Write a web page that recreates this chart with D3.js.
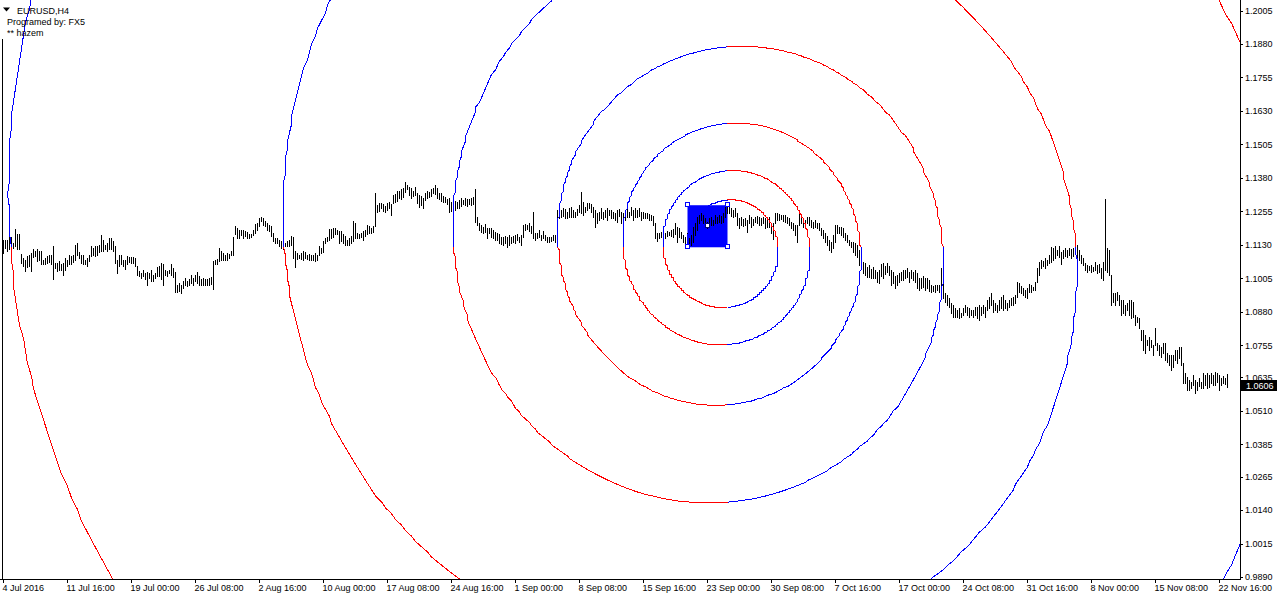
<!DOCTYPE html>
<html><head><meta charset="utf-8">
<script src="https://cdn.jsdelivr.net/npm/d3@7"></script>
<style>
html,body{margin:0;padding:0;background:#fff;}
svg{display:block;}
</style></head><body>
<svg id="c" width="1280" height="600"></svg>
<script>
// ---------------- data ----------------
const symbolTitle = "EURUSD,H4";
const infoLines = ["Programed by: FX5", "** hazem"];
const priceTickLabels = ["1.2005","1.1880","1.1755","1.1630","1.1505","1.1380","1.1255","1.1130","1.1005","1.0880","1.0755","1.0635","1.0510","1.0385","1.0265","1.0140","1.0015","0.9890"];
const dateTickLabels = ["4 Jul 2016","11 Jul 16:00","19 Jul 00:00","26 Jul 08:00","2 Aug 16:00","10 Aug 00:00","17 Aug 08:00","24 Aug 16:00","1 Sep 00:00","8 Sep 08:00","15 Sep 16:00","23 Sep 00:00","30 Sep 08:00","7 Oct 16:00","17 Oct 00:00","24 Oct 08:00","31 Oct 16:00","8 Nov 00:00","15 Nov 08:00","22 Nov 16:00"];
const dateTickBars = [0,32,64,96,128,160,192,224,256,288,320,352,384,416,448,480,512,544,576,608];
const lastPrice = 1.0606;

const highs = [
1.1148,1.1146,1.1148,1.1161,1.1157,1.1136,1.1189,1.1167,1.1167,1.1095,
1.1080,1.1073,1.1086,1.1092,1.1098,1.1114,1.1107,1.1114,1.1105,1.1105,
1.1073,1.1080,1.1086,1.1092,1.1092,1.1123,1.1061,1.1061,1.1067,1.1057,
1.1061,1.1080,1.1073,1.1092,1.1086,1.1092,1.1126,1.1136,1.1102,1.1092,
1.1092,1.1073,1.1080,1.1092,1.1123,1.1117,1.1123,1.1123,1.1129,1.1164,
1.1148,1.1129,1.1136,1.1154,1.1154,1.1144,1.1123,1.1073,1.1092,1.1092,
1.1073,1.1073,1.1086,1.1082,1.1082,1.1082,1.1080,1.1049,1.1030,1.1024,
1.1036,1.1024,1.1027,1.1024,1.1033,1.1017,1.1024,1.1045,1.1049,1.1061,
1.1055,1.1036,1.1030,1.1036,1.1057,1.1040,1.1026,1.0980,1.0986,1.0980,
1.0993,1.1005,1.0995,1.0999,1.1017,1.1005,1.1017,1.1027,1.1011,1.0999,
1.1005,1.0999,1.1002,1.1005,1.1007,1.1067,1.1073,1.1077,1.1117,1.1107,
1.1098,1.1092,1.1098,1.1095,1.1107,1.1157,1.1198,1.1192,1.1185,1.1182,
1.1182,1.1179,1.1177,1.1169,1.1169,1.1185,1.1207,1.1210,1.1229,1.1233,
1.1229,1.1217,1.1210,1.1204,1.1198,1.1173,1.1154,1.1154,1.1148,1.1142,
1.1148,1.1136,1.1142,1.1148,1.1161,1.1157,1.1105,1.1098,1.1092,1.1098,
1.1105,1.1102,1.1092,1.1095,1.1092,1.1092,1.1098,1.1092,1.1123,1.1117,
1.1144,1.1154,1.1157,1.1189,1.1189,1.1192,1.1192,1.1185,1.1179,1.1179,
1.1167,1.1161,1.1148,1.1154,1.1161,1.1217,1.1210,1.1173,1.1169,1.1173,
1.1179,1.1185,1.1204,1.1198,1.1192,1.1198,1.1322,1.1276,1.1285,1.1285,
1.1281,1.1273,1.1285,1.1289,1.1279,1.1314,1.1319,1.1331,1.1331,1.1335,
1.1339,1.1363,1.1353,1.1343,1.1341,1.1331,1.1343,1.1322,
1.1315,1.1312,1.1304,1.1323,1.1330,1.1326,1.1338,1.1341,1.1353,1.1341,
1.1323,1.1323,1.1312,1.1308,1.1300,1.1304,1.1289,1.1282,1.1293,1.1289,
1.1297,1.1304,1.1297,1.1304,1.1300,1.1300,1.1304,1.1308,1.1338,1.1233,
1.1211,1.1203,1.1196,1.1207,1.1192,1.1192,1.1192,1.1185,1.1177,1.1173,
1.1170,1.1158,1.1158,1.1162,1.1158,1.1166,1.1158,1.1162,1.1166,1.1170,
1.1158,1.1166,1.1203,1.1207,1.1203,1.1211,1.1199,1.1252,1.1173,1.1173,
1.1185,1.1166,1.1181,1.1166,1.1158,1.1158,1.1158,1.1166,1.1166,1.1259,
1.1267,1.1259,1.1267,1.1263,1.1252,1.1267,1.1270,1.1259,1.1252,1.1263,
1.1278,1.1326,1.1289,1.1270,1.1285,1.1285,1.1282,1.1270,1.1259,1.1248,
1.1252,1.1267,1.1252,1.1259,1.1267,1.1259,1.1259,1.1252,1.1248,1.1259,
1.1263,1.1252,1.1248,1.1259,1.1267,1.1252,1.1270,1.1259,1.1267,1.1259,
1.1267,1.1252,1.1252,1.1248,1.1248,1.1244,1.1241,1.1237,1.1211,1.1173,
1.1173,1.1177,1.1185,1.1173,1.1181,1.1177,1.1185,1.1188,1.1211,1.1196,
1.1192,1.1177,1.1166,1.1158,1.1173,1.1155,1.1166,1.1196,1.1211,1.1233,
1.1248,1.1259,1.1241,1.1229,1.1214,1.1229,1.1233,1.1222,1.1241,1.1233,
1.1241,1.1237,1.1248,1.1278,1.1285,1.1270,1.1267,1.1259,1.1267,1.1248,
1.1229,1.1233,1.1226,1.1229,1.1222,1.1241,1.1233,1.1226,1.1233,1.1237,
1.1233,1.1229,1.1233,1.1229,1.1222,1.1233,1.1203,1.1211,1.1248,1.1248,
1.1244,1.1241,1.1241,1.1241,1.1233,1.1229,1.1214,1.1211,1.1203,1.1203,
1.1244,1.1233,1.1229,1.1222,1.1233,1.1233,1.1222,1.1214,1.1222,1.1211,
1.1211,1.1192,1.1185,1.1173,1.1162,1.1147,1.1140,1.1166,1.1203,1.1203,
1.1196,1.1196,1.1192,1.1173,1.1166,1.1147,1.1140,1.1140,1.1136,1.1129,
1.1110,1.1080,1.1065,1.1061,1.1046,1.1054,1.1039,1.1046,1.1035,1.1028,
1.1035,1.1058,1.1061,1.1050,1.1061,1.1050,1.1035,1.1028,1.1013,1.1017,
1.1024,1.1028,1.1035,1.1035,1.1043,1.1028,1.1035,1.1028,1.1035,1.1024,
1.1005,1.1005,1.1013,1.1005,1.1005,1.0998,1.0979,1.0975,1.0979,1.0979,
1.0979,1.1043,1.0990,1.0949,1.0942,1.0931,1.0912,1.0905,1.0893,1.0886,
1.0893,1.0875,1.0893,1.0905,1.0897,1.0893,1.0886,1.0886,1.0897,1.0897,
1.0905,1.0897,1.0905,1.0897,1.0923,1.0934,1.0949,1.0923,1.0912,1.0905,
1.0923,1.0934,1.0942,1.0923,1.0912,1.0923,1.0931,1.0934,1.0942,1.0990,
1.0987,1.0975,1.0968,1.0960,1.0968,1.0983,1.0979,1.0972,1.0990,1.1043,
1.1065,1.1073,1.1069,1.1080,1.1073,1.1091,1.1121,1.1117,1.1125,1.1110,
1.1125,1.1102,1.1110,1.1117,1.1110,1.1117,1.1114,1.1117,1.1147,1.1129,
1.1110,1.1091,1.1080,1.1061,1.1054,1.1050,1.1054,1.1046,1.1065,1.1054,
1.1058,1.1043,1.1065,1.1300,1.1117,1.1110,1.1017,1.0949,1.0949,1.0953,
1.0942,1.0923,1.0923,1.0905,1.0912,1.0923,1.0923,1.0916,1.0867,1.0860,
1.0856,1.0811,1.0811,1.0792,1.0774,1.0785,1.0774,1.0755,1.0819,1.0763,
1.0755,1.0748,1.0763,1.0763,1.0725,1.0718,1.0718,1.0718,1.0737,1.0737,
1.0748,1.0748,1.0688,1.0651,1.0636,1.0625,1.0617,1.0643,1.0625,1.0617,
1.0632,1.0617,1.0651,1.0643,1.0651,1.0643,1.0651,1.0643,1.0654,1.0651,
1.0643,1.0632,1.0640,1.0632,1.0647
];
const lows = [
1.1098,1.1117,1.1105,1.1111,1.1129,1.1117,1.1123,1.1111,1.1111,1.1061,
1.1049,1.1030,1.1045,1.1049,1.1030,1.1082,1.1086,1.1067,1.1073,1.1055,
1.1055,1.1055,1.1061,1.1065,1.1055,1.0999,1.1040,1.1030,1.1036,1.1036,
1.1017,1.1036,1.1049,1.1055,1.1055,1.1065,1.1073,1.1092,1.1080,1.1061,
1.1057,1.1055,1.1049,1.1067,1.1086,1.1092,1.1086,1.1092,1.1102,1.1105,
1.1105,1.1111,1.1105,1.1111,1.1114,1.1105,1.1061,1.1024,1.1049,1.1055,
1.1049,1.1039,1.1055,1.1065,1.1061,1.1061,1.1049,1.1017,1.1011,1.1005,
1.1011,1.1002,1.0980,1.1005,1.0995,1.0995,1.1005,1.1011,1.1011,1.1002,
1.0980,1.1017,1.1011,1.1024,1.1017,1.1007,1.0953,1.0953,1.0955,1.0949,
1.0968,1.0980,1.0974,1.0980,1.0986,1.0980,1.0993,1.0986,1.0980,1.0980,
1.0978,1.0980,1.0980,1.0980,1.0983,1.0962,1.1055,1.1055,1.1067,1.1073,
1.1070,1.1070,1.1073,1.1080,1.1092,1.1092,1.1167,1.1154,1.1152,1.1164,
1.1154,1.1161,1.1154,1.1154,1.1157,1.1164,1.1173,1.1185,1.1198,1.1217,
1.1204,1.1198,1.1185,1.1179,1.1161,1.1142,1.1136,1.1136,1.1123,1.1117,
1.1114,1.1123,1.1123,1.1123,1.1129,1.1080,1.1045,1.1077,1.1080,1.1077,
1.1073,1.1080,1.1077,1.1070,1.1073,1.1070,1.1067,1.1070,1.1092,1.1098,
1.1102,1.1136,1.1142,1.1148,1.1154,1.1157,1.1167,1.1167,1.1136,1.1142,
1.1136,1.1127,1.1129,1.1129,1.1136,1.1142,1.1154,1.1154,1.1152,1.1157,
1.1148,1.1161,1.1167,1.1173,1.1173,1.1177,1.1198,1.1251,1.1254,1.1264,
1.1254,1.1251,1.1260,1.1266,1.1239,1.1285,1.1289,1.1291,1.1304,1.1301,
1.1306,1.1326,1.1335,1.1316,1.1304,1.1310,1.1314,1.1285,
1.1270,1.1278,1.1267,1.1297,1.1304,1.1308,1.1312,1.1323,1.1319,1.1304,
1.1300,1.1293,1.1289,1.1289,1.1282,1.1252,1.1256,1.1252,1.1259,1.1267,
1.1267,1.1274,1.1282,1.1278,1.1274,1.1282,1.1278,1.1282,1.1214,1.1203,
1.1185,1.1177,1.1173,1.1177,1.1155,1.1173,1.1158,1.1155,1.1147,1.1147,
1.1136,1.1132,1.1129,1.1136,1.1121,1.1129,1.1136,1.1140,1.1136,1.1147,
1.1140,1.1129,1.1158,1.1185,1.1188,1.1181,1.1173,1.1155,1.1147,1.1155,
1.1158,1.1147,1.1155,1.1147,1.1140,1.1140,1.1143,1.1147,1.1140,1.1147,
1.1229,1.1233,1.1237,1.1229,1.1229,1.1233,1.1233,1.1233,1.1233,1.1241,
1.1252,1.1248,1.1241,1.1252,1.1259,1.1267,1.1252,1.1233,1.1196,1.1211,
1.1222,1.1229,1.1226,1.1233,1.1222,1.1241,1.1229,1.1229,1.1222,1.1214,
1.1237,1.1211,1.1214,1.1222,1.1233,1.1233,1.1241,1.1222,1.1233,1.1233,
1.1237,1.1222,1.1229,1.1229,1.1229,1.1222,1.1222,1.1203,1.1155,1.1143,
1.1155,1.1158,1.1155,1.1155,1.1162,1.1166,1.1162,1.1158,1.1170,1.1140,
1.1158,1.1155,1.1140,1.1136,1.1129,1.1121,1.1129,1.1140,1.1166,1.1185,
1.1211,1.1222,1.1211,1.1196,1.1192,1.1196,1.1203,1.1203,1.1211,1.1211,
1.1214,1.1211,1.1214,1.1233,1.1248,1.1248,1.1237,1.1233,1.1237,1.1203,
1.1192,1.1203,1.1199,1.1203,1.1177,1.1211,1.1196,1.1203,1.1214,1.1211,
1.1203,1.1203,1.1211,1.1192,1.1196,1.1196,1.1173,1.1151,1.1211,1.1222,
1.1222,1.1226,1.1218,1.1214,1.1211,1.1203,1.1192,1.1185,1.1166,1.1140,
1.1203,1.1211,1.1196,1.1203,1.1211,1.1203,1.1196,1.1192,1.1196,1.1192,
1.1185,1.1166,1.1155,1.1140,1.1129,1.1110,1.1102,1.1117,1.1140,1.1173,
1.1173,1.1166,1.1158,1.1147,1.1140,1.1129,1.1121,1.1102,1.1091,1.1084,
1.1054,1.1046,1.1024,1.1017,1.1009,1.1009,1.1005,1.1005,1.1005,1.0990,
1.0987,1.1013,1.1005,1.1020,1.1028,1.1017,1.0979,1.0987,1.0968,1.0979,
1.0990,1.0998,1.0998,1.1005,1.1009,1.0990,1.1005,1.0998,1.0990,1.0968,
1.0960,1.0968,1.0972,1.0960,1.0968,1.0957,1.0953,1.0957,1.0953,1.0960,
1.0953,1.0949,1.0931,1.0916,1.0905,1.0897,1.0875,1.0860,1.0860,1.0860,
1.0856,1.0860,1.0867,1.0878,1.0867,1.0860,1.0867,1.0860,1.0867,1.0856,
1.0849,1.0867,1.0875,1.0860,1.0886,1.0893,1.0905,1.0878,1.0886,1.0878,
1.0886,1.0893,1.0886,1.0893,1.0886,1.0897,1.0905,1.0905,1.0912,1.0934,
1.0953,1.0949,1.0942,1.0934,1.0931,1.0953,1.0953,1.0960,1.0960,1.0990,
1.1017,1.1043,1.1050,1.1043,1.1054,1.1061,1.1065,1.1073,1.1080,1.1091,
1.1084,1.1058,1.1080,1.1087,1.1084,1.1091,1.1080,1.1087,1.1102,1.1080,
1.1073,1.1061,1.1054,1.1035,1.1028,1.1035,1.1028,1.1031,1.1035,1.1024,
1.1028,1.1005,1.0998,1.1035,1.1028,1.1017,1.0905,1.0916,1.0905,1.0923,
1.0905,1.0867,1.0875,1.0867,1.0886,1.0867,1.0856,1.0860,1.0830,1.0841,
1.0819,1.0774,1.0737,1.0725,1.0755,1.0737,1.0748,1.0718,1.0755,1.0737,
1.0718,1.0710,1.0725,1.0699,1.0692,1.0681,1.0662,1.0673,1.0699,1.0688,
1.0706,1.0681,1.0613,1.0613,1.0587,1.0587,1.0595,1.0606,1.0576,1.0587,
1.0602,1.0595,1.0595,1.0606,1.0595,1.0598,1.0613,1.0606,1.0606,1.0617,
1.0587,1.0606,1.0613,1.0610,1.0598
];

// rectangle object (bars / prices) and golden spiral anchored on its corner
const rectBars = [342, 362];
const rectPrices = [1.1278, 1.1121];
const spiralCenterBar = 362;
const spiralCenterPrice = 1.1121;
const spiralUnitBars = 22.53;
const spiralUnitPrice = 0.01766;
const spiralQuarterRange = [-1, 25];
const spiralPointsPerQuarter = 90;
const spiralColors = ["#ff0000", "#0000ff", "#ff0000", "#0000ff"];
// vertical marker line on the first bar column
const leftLinePrices = [1.1900, 0.9860];

// ---------------- drawing ----------------
const FONT = "'Liberation Sans', Arial, sans-serif";
const svg = d3.select("#c");
const plotW = 1240, plotH = 579;

const xs = d3.scaleLinear().domain([0, 618.5]).range([3, 1240]);
const ys = d3.scaleLinear().domain([0.9890, 1.2005]).range([577, 10.5]);

svg.append("defs").append("clipPath").attr("id", "plotClip")
  .append("rect").attr("x", 0).attr("y", 0).attr("width", plotW).attr("height", plotH);

const plot = svg.append("g").attr("clip-path", "url(#plotClip)");

// background rectangle object
plot.append("rect")
  .attr("x", xs(rectBars[0]) + 0.5).attr("y", ys(rectPrices[0]))
  .attr("width", xs(rectBars[1]) - xs(rectBars[0]))
  .attr("height", ys(rectPrices[1]) - ys(rectPrices[0]))
  .attr("fill", "#0000ff");

// left vertical line
plot.append("line").attr("x1", xs(-0.5) + 0.5).attr("x2", xs(-0.5) + 0.5)
  .attr("y1", ys(leftLinePrices[0])).attr("y2", ys(leftLinePrices[1]))
  .attr("stroke", "#000").attr("shape-rendering", "crispEdges");

// OHLC bars (high-low)
plot.append("g").attr("shape-rendering", "crispEdges")
  .selectAll("line").data(highs).join("line")
  .attr("x1", (d, i) => xs(i) + 0.5).attr("x2", (d, i) => xs(i) + 0.5)
  .attr("y1", d => Math.floor(ys(d)))
  .attr("y2", (d, i) => Math.max(Math.ceil(ys(lows[i])), Math.floor(ys(d)) + 2))
  .attr("stroke", "#000").attr("stroke-width", 1);

// header text
svg.append("path").attr("d", "M3,7.5 L10,7.5 L6.5,11.5 Z").attr("fill", "#000");
svg.append("text").attr("x", 17).attr("y", 13.5).text(symbolTitle)
  .attr("font-family", FONT).attr("font-size", 9).attr("fill", "#000");
svg.selectAll("text.info").data(infoLines).join("text").attr("class", "info")
  .attr("x", 7).attr("y", (d, i) => 25 + i * 11).text(d => d)
  .attr("font-family", FONT).attr("font-size", 9).attr("fill", "#000");

// golden spiral: one vertex per degree, time coordinate snapped to a bar
const PHI = (1 + Math.sqrt(5)) / 2;
const segs = [];
for (let q = spiralQuarterRange[0]; q < spiralQuarterRange[1]; q++) {
  const pts = [];
  for (let j = 0; j <= spiralPointsPerQuarter; j++) {
    const t = q + j / spiralPointsPerQuarter;
    const th = t * Math.PI / 2, g = Math.pow(PHI, t / 4);
    pts.push({
      bar: Math.round(spiralCenterBar + spiralUnitBars * g * Math.sin(th)),
      price: spiralCenterPrice + spiralUnitPrice * g * Math.cos(th)
    });
  }
  segs.push({ q: ((q % 4) + 4) % 4, pts });
}
const spiralLine = d3.line().x(d => xs(d.bar) + 0.5).y(d => ys(d.price));
plot.append("g").selectAll("path").data(segs).join("path")
  .attr("d", d => spiralLine(d.pts))
  .attr("fill", "none").attr("stroke", d => spiralColors[d.q]).attr("stroke-width", 1)
  .attr("shape-rendering", "crispEdges");

// rectangle handles
const hx = [xs(rectBars[0]) + 0.5, xs(rectBars[1]) + 0.5];
const hy = [ys(rectPrices[0]), ys(rectPrices[1])];
const handles = [[hx[0], hy[0], "#0000ff"], [hx[1], hy[0], "#0000ff"], [hx[0], hy[1], "#0000ff"], [hx[1], hy[1], "#0000ff"],
  [(hx[0] + hx[1]) / 2, (hy[0] + hy[1]) / 2, "#000080"]];
svg.append("g").attr("shape-rendering", "crispEdges").selectAll("rect").data(handles).join("rect")
  .attr("x", d => Math.round(d[0]) - 2.5).attr("y", d => Math.round(d[1]) - 2.5)
  .attr("width", 4).attr("height", 4)
  .attr("fill", "#fff").attr("stroke", d => d[2]).attr("stroke-width", 1);

// axes
const yAxis = d3.axisRight(ys)
  .tickValues(priceTickLabels.map(Number))
  .tickFormat((d, i) => priceTickLabels[i])
  .tickSize(3).tickSizeOuter(0).tickPadding(2);
const gy = svg.append("g").attr("transform", "translate(1240,0)").call(yAxis);
gy.select(".domain").remove();
gy.attr("font-family", FONT).attr("font-size", 9);
gy.selectAll("line").attr("stroke", "#000").attr("shape-rendering", "crispEdges");
gy.selectAll("text").attr("fill", "#000");

const xAxis = d3.axisBottom(xs)
  .tickValues(dateTickBars)
  .tickFormat((d, i) => dateTickLabels[i])
  .tickSize(4).tickSizeOuter(0);
const gx = svg.append("g").attr("transform", "translate(0,579)").call(xAxis);
gx.select(".domain").remove();
gx.attr("font-family", FONT).attr("font-size", 9);
gx.selectAll("line").attr("stroke", "#000").attr("shape-rendering", "crispEdges");
gx.selectAll("text").attr("fill", "#000").attr("text-anchor", "start").attr("x", -1).attr("y", 6).attr("dy", "0.71em");

// frame lines
svg.append("line").attr("x1", 1240.5).attr("x2", 1240.5).attr("y1", 0).attr("y2", 580)
  .attr("stroke", "#000").attr("shape-rendering", "crispEdges");
svg.append("line").attr("x1", 0).attr("x2", 1241).attr("y1", 579.5).attr("y2", 579.5)
  .attr("stroke", "#000").attr("shape-rendering", "crispEdges");

// current price label
const ly = ys(lastPrice);
svg.append("rect").attr("x", 1241).attr("y", Math.round(ly) - 5).attr("width", 36).attr("height", 11).attr("fill", "#000");
svg.append("text").attr("x", 1246).attr("y", Math.round(ly) + 3.5).text(lastPrice.toFixed(4))
  .attr("font-family", FONT).attr("font-size", 9).attr("fill", "#fff");
</script>
</body></html>
